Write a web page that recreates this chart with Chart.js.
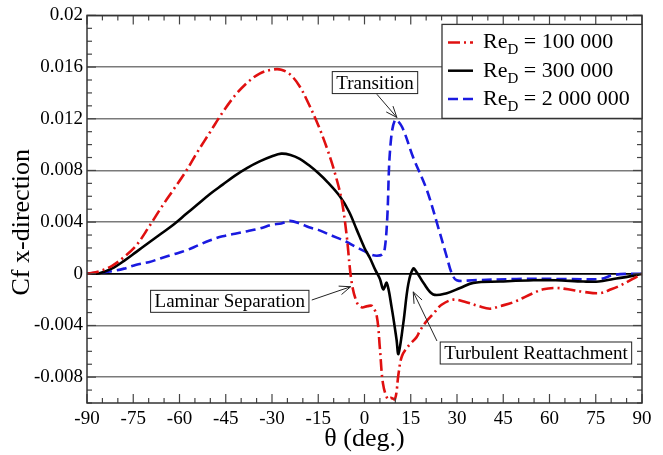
<!DOCTYPE html>
<html><head><meta charset="utf-8">
<script src="https://cdn.jsdelivr.net/npm/chart.js@4/dist/chart.umd.min.js"></script>
<style>html,body{margin:0;padding:0;background:#fff;}canvas{display:block;}</style>
</head><body>
<canvas id="c" width="663" height="455"></canvas>
<script>
// ---------- data ----------
const seriesLabels = ['100 000', '300 000', '2 000 000'];

const redTheta = [-90,-86,-82,-78,-74,-70,-66,-62,-58,-54,-50,-46,-42,-38,-34,-30,-27,-24,-21,-18,-15,-12,-9.6,-7.4,-5.8,-4.2,-2.5,-0.9,1,2.5,4,5,6,7.5,8.5,9.9,11,12.1,14.2,16.9,18,20,22.3,25,28.8,33,37,40.7,44,48.3,54.7,58,62.3,66,71,76.4,80,83,87,90];
const redCf    = [0,0.0002,0.0006,0.0013,0.0022,0.0036,0.0051,0.0065,0.0079,0.0095,0.011,0.0125,0.0138,0.0148,0.0155,0.0158,0.0158,0.0154,0.0145,0.0131,0.0115,0.0096,0.0078,0.0057,0.003,-0.0006,-0.0022,-0.0026,-0.0025,-0.0025,-0.0033,-0.0058,-0.0085,-0.0097,-0.0096,-0.0097,-0.0078,-0.0064,-0.0056,-0.0049,-0.0044,-0.0037,-0.0031,-0.0024,-0.002,-0.0022,-0.0025,-0.0027,-0.0025,-0.0022,-0.0015,-0.0012,-0.0011,-0.0012,-0.0014,-0.0015,-0.0012,-0.0009,-0.0004,0];

const blackTheta = [-90,-86,-82,-78,-74,-70,-66,-62,-58,-54,-50,-46,-42,-38,-34,-30,-27,-24,-21,-18,-15,-12,-8,-5,-2.5,0,1.8,3.5,5,6.1,7.2,8.8,10.4,11,12.6,14.2,15.8,17,19.1,22.3,26.7,31,35.3,44,54.8,62,71,76,80.7,86,90];
const blackCf    = [0,0.00005,0.0004,0.001,0.0017,0.0024,0.0031,0.0038,0.0046,0.0054,0.0062,0.0069,0.0076,0.0082,0.0087,0.0091,0.0093,0.0092,0.0089,0.0084,0.0078,0.0071,0.006,0.0048,0.0034,0.002,0.0012,0.0003,-0.0004,-0.0012,-0.0007,-0.0026,-0.0051,-0.0062,-0.0038,-0.0008,0.0004,0.0001,-0.0007,-0.0016,-0.0015,-0.0011,-0.0007,-0.0006,-0.0005,-0.0005,-0.0006,-0.0006,-0.0004,-0.0002,0];

const blueTheta = [-90,-86,-82,-78,-74,-70,-66,-62,-58,-54,-50,-46,-42,-38,-34,-30,-27,-24.2,-21,-18,-15,-12,-9,-6,-3,-0.4,2,4,5.8,6.6,7.4,8.3,9.9,12.1,15.8,20.2,23.9,26.7,28.2,29.9,35,49.4,65.6,76.4,80.6,85,90];
const blueCf    = [0,0.0001,0.0002,0.0004,0.0007,0.0009,0.0012,0.0015,0.0018,0.0022,0.0026,0.0029,0.0031,0.0033,0.0035,0.0038,0.0039,0.0041,0.0039,0.0036,0.0034,0.0031,0.0028,0.0025,0.0021,0.0018,0.0015,0.0014,0.0015,0.002,0.0044,0.0096,0.0119,0.0114,0.009,0.0065,0.0036,0.0013,0.0001,-0.0005,-0.0005,-0.0004,-0.0004,-0.0004,-0.0001,0,0];

const xTicks = [-90,-75,-60,-45,-30,-15,0,15,30,45,60,75,90];
const yTicks = [0.02,0.016,0.012,0.008,0.004,0,-0.004,-0.008];
const yTickLabels = ['0.02','0.016','0.012','0.008','0.004','0','-0.004','-0.008'];
const xTitle = 'θ (deg.)';
const yTitle = 'Cf x-direction';

const notes = [
  {text:'Transition', box:[3.4,0.0148], from:[4.0,0.0139], tip:[10.5,0.0121]},
  {text:'Laminar Separation', box:[-43.7,-0.00213], from:[-17.1,-0.00203], tip:[-4.5,-0.001]},
  {text:'Turbulent Reattachment', box:[55.6,-0.00613], from:[23.5,-0.0052], tip:[15.8,-0.0014]}
];

// ---------- styles ----------
const SERIF = '"Liberation Serif", "DejaVu Serif", serif';
const styles = [
  {color:'#e01010', dash:[12,4,2,4]},
  {color:'#000000', dash:[]},
  {color:'#1a1ae0', dash:[10,5]}
];
const zip = (a,b)=>a.map((x,i)=>({x:x,y:b[i]}));
const seriesData = [zip(redTheta,redCf), zip(blackTheta,blackCf), zip(blueTheta,blueCf)];

function arrow(ctx,x0,y0,x1,y1){
  ctx.beginPath(); ctx.moveTo(x0,y0); ctx.lineTo(x1,y1); ctx.stroke();
  const a = Math.atan2(y1-y0,x1-x0), L=12, s=0.38;
  ctx.beginPath();
  ctx.moveTo(x1-L*Math.cos(a-s), y1-L*Math.sin(a-s));
  ctx.lineTo(x1,y1);
  ctx.lineTo(x1-L*Math.cos(a+s), y1-L*Math.sin(a+s));
  ctx.stroke();
}

const framePlugin = {
  id:'frame',
  afterDraw(chart){
    const ctx = chart.ctx, ca = chart.chartArea;
    const xs = chart.scales.x, ys = chart.scales.y;
    ctx.save();
    // inward ticks
    ctx.strokeStyle='#444'; ctx.lineWidth=1.2;
    const tk=(x0,y0,x1,y1)=>{ctx.beginPath();ctx.moveTo(x0,y0);ctx.lineTo(x1,y1);ctx.stroke();};
    for(let i=0;i<xTicks.length;i++){
      const v=xTicks[i], px=xs.getPixelForValue(v);
      tk(px,ca.bottom,px,ca.bottom-9); tk(px,ca.top,px,ca.top+9);
      if(i<xTicks.length-1){
        const step=(xTicks[i+1]-v)/3;
        for(let k=1;k<3;k++){const p=xs.getPixelForValue(v+k*step); tk(p,ca.bottom,p,ca.bottom-5); tk(p,ca.top,p,ca.top+5);}
      }
    }
    const yStep = (yTicks[0]-yTicks[1])/4;
    for(let v=ys.max; v>=ys.min-1e-9; v-=yStep){
      const r=Math.round(v/yStep), isMaj = r%4===0;
      const py=ys.getPixelForValue(v), L=isMaj?9:5;
      tk(ca.left,py,ca.left+L,py); tk(ca.right,py,ca.right-L,py);
    }
    // frame
    ctx.strokeStyle='#333'; ctx.lineWidth=1.5;
    ctx.strokeRect(ca.left,ca.top,ca.right-ca.left,ca.bottom-ca.top);

    // y title
    ctx.save();
    ctx.translate(22, (ca.top+ca.bottom)/2+13);
    ctx.rotate(-Math.PI/2);
    ctx.font='26px '+SERIF; ctx.fillStyle='#000'; ctx.textAlign='center'; ctx.textBaseline='middle';
    ctx.fillText(yTitle,0,0);
    ctx.restore();

    // annotations
    ctx.font='19px '+SERIF; ctx.textAlign='center'; ctx.textBaseline='middle';
    notes.forEach(n=>{
      const bx=xs.getPixelForValue(n.box[0]), by=ys.getPixelForValue(n.box[1]);
      const w=ctx.measureText(n.text).width+8, h=22;
      ctx.strokeStyle='#222'; ctx.lineWidth=1;
      arrow(ctx, xs.getPixelForValue(n.from[0]), ys.getPixelForValue(n.from[1]), xs.getPixelForValue(n.tip[0]), ys.getPixelForValue(n.tip[1]));
      ctx.fillStyle='#fff'; ctx.fillRect(bx-w/2,by-h/2,w,h);
      ctx.strokeRect(bx-w/2,by-h/2,w,h);
      ctx.fillStyle='#000'; ctx.fillText(n.text,bx,by+1);
    });

    // legend
    const lw=200, lh=94, lx=ca.right-lw, ly=ca.top+9;
    ctx.fillStyle='#fff'; ctx.fillRect(lx,ly,lw,lh);
    ctx.strokeStyle='#333'; ctx.lineWidth=1.3; ctx.strokeRect(lx,ly,lw,lh);
    ctx.textAlign='left'; ctx.textBaseline='alphabetic';
    seriesLabels.forEach((lab,i)=>{
      const cy = ly+18+i*28.3;
      ctx.strokeStyle=styles[i].color; ctx.lineWidth=2.5; ctx.setLineDash(styles[i].dash);
      ctx.beginPath(); ctx.moveTo(lx+6,cy); ctx.lineTo(lx+31,cy); ctx.stroke(); ctx.setLineDash([]);
      ctx.fillStyle='#000';
      let tx=lx+41; const base=cy+6;
      ctx.font='22px '+SERIF; ctx.fillText('Re',tx,base); tx+=ctx.measureText('Re').width;
      ctx.font='15px '+SERIF; ctx.fillText('D',tx,base+6); tx+=ctx.measureText('D').width;
      ctx.font='22px '+SERIF; ctx.fillText(' = '+lab,tx,base);
    });
    ctx.restore();
  }
};

new Chart(document.getElementById('c'),{
  type:'line',
  data:{datasets: seriesData.map((d,i)=>({
    label:'Re_D = '+seriesLabels[i], data:d,
    borderColor:styles[i].color, borderDash:styles[i].dash, borderWidth:2.6,
    pointRadius:0, fill:false, tension:0.35
  }))},
  options:{
    responsive:false, animation:false, devicePixelRatio:1,
    layout:{padding:{top:15,right:21,left:0,bottom:0}},
    plugins:{legend:{display:false}, tooltip:{enabled:false}},
    scales:{
      x:{type:'linear', min:-90, max:90,
        afterBuildTicks:s=>{s.ticks=xTicks.map(v=>({value:v}));},
        afterFit:s=>{s.height=52;},
        grid:{display:false, drawTicks:false}, border:{display:false},
        ticks:{color:'#000', font:{family:SERIF,size:19}, padding:5, maxRotation:0, autoSkip:false},
        title:{display:true, text:xTitle, color:'#000', font:{family:SERIF,size:26}, padding:{top:0,bottom:0}}
      },
      y:{type:'linear', min:-0.01, max:0.02,
        afterBuildTicks:s=>{s.ticks=yTicks.map(v=>({value:v}));},
        afterFit:s=>{s.width=87;},
        grid:{drawTicks:false, color:c=>(Math.abs(c.tick.value)<1e-9?'#000':'#7a7a7a'), lineWidth:c=>(Math.abs(c.tick.value)<1e-9?1.8:1.5)},
        border:{display:false},
        ticks:{color:'#000', font:{family:SERIF,size:19}, padding:4, autoSkip:false,
          callback:(v,i)=>yTickLabels[i]},
        title:{display:false}
      }
    }
  },
  plugins:[framePlugin]
});
</script>
</body></html>
